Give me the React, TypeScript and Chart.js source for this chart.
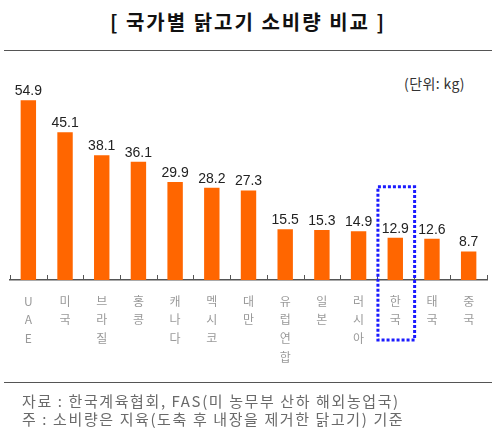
import { useEffect, useRef } from "react";
import { Chart, registerables } from "chart.js";
Chart.register(...registerables);

const countries = ["UAE", "미국", "브라질", "홍콩", "캐나다", "멕시코", "대만", "유럽연합", "일본", "러시아", "한국", "태국", "중국"];
const consumption = [54.9, 45.1, 38.1, 36.1, 29.9, 28.2, 27.3, 15.5, 15.3, 14.9, 12.9, 12.6, 8.7];
const highlighted = "한국";
const titleText = "[ 국가별 닭고기 소비량 비교 ]";
const unitText = "(단위: kg)";
const notes = ["자료 : 한국계육협회, FAS(미 농무부 산하 해외농업국)", "주 : 소비량은 지육(도축 후 내장을 제거한 닭고기) 기준"];

const KR = "'Noto Sans CJK KR', 'Noto Sans', sans-serif";

const App = () => {
  const canvasRef = useRef<HTMLCanvasElement>(null);
  const chartInstance = useRef<Chart | null>(null);

  useEffect(() => {
    const extras = {
      id: "extras",
      afterDatasetsDraw: (chart: any) => {
        const ctx = chart.ctx;
        const area = chart.chartArea;
        const x = chart.scales.x;
        const bars = chart.getDatasetMeta(0).data;
        const step = (x.right - x.left) / countries.length;

        ctx.save();
        // value labels
        ctx.fillStyle = "#222";
        ctx.font = "14px 'Liberation Sans', Arial, sans-serif";
        ctx.textAlign = "center";
        ctx.textBaseline = "bottom";
        bars.forEach((bar: any, i: number) => {
          ctx.fillText(consumption[i].toFixed(1), bar.x, bar.y - 2);
        });

        // small ticks pointing up from the axis
        ctx.strokeStyle = "#555";
        ctx.lineWidth = 1;
        for (let i = 0; i <= countries.length; i++) {
          const px = Math.round(x.left + i * step) + 0.5;
          ctx.beginPath();
          ctx.moveTo(px, area.bottom - 5);
          ctx.lineTo(px, area.bottom);
          ctx.stroke();
        }

        // dotted box round the highlighted country
        const idx = countries.indexOf(highlighted);
        const bar: any = bars[idx];
        ctx.strokeStyle = "#1a1aff";
        ctx.lineWidth = 3;
        ctx.setLineDash([3, 2]);
        const top = bar.y - 51;
        ctx.strokeRect(bar.x - step / 2 + 1, top, step, area.bottom + 60 - top);
        ctx.restore();
      },
    };

    chartInstance.current = new Chart(canvasRef.current!, {
      type: "bar",
      data: {
        labels: countries.map((c) => c.split("")),
        datasets: [
          {
            data: consumption,
            backgroundColor: "#ff6600",
            barPercentage: 0.42,
            categoryPercentage: 1,
          },
        ],
      },
      options: {
        responsive: false,
        animation: false,
        layout: { padding: { left: 10, right: 13, top: 83.5, bottom: 63.6 } },
        plugins: { legend: { display: false }, tooltip: { enabled: false } },
        scales: {
          x: {
            grid: { display: false, drawTicks: false },
            border: { color: "#555", width: 1.5 },
            ticks: {
              color: "#999",
              padding: 12,
              maxRotation: 0,
              autoSkip: false,
              font: { family: KR, size: 12, lineHeight: 1.55 },
            },
          },
          y: { display: false, min: 0, max: 60 },
        },
      },
      plugins: [extras],
    });

    return () => {
      chartInstance.current?.destroy();
      chartInstance.current = null;
    };
  }, []);

  return (
    <div style={{ position: "absolute", left: 0, top: 0, width: 500, height: 442, background: "#fff", fontFamily: KR }}>
      <div style={{ position: "absolute", top: 7, left: 0, width: 496, textAlign: "center", fontSize: 20, letterSpacing: 2, fontWeight: "bold", color: "#111", whiteSpace: "nowrap" }}>
        {titleText}
      </div>
      <div style={{ position: "absolute", top: 50, left: 4, width: 488, borderTop: "1.5px solid #555" }} />
      <div style={{ position: "absolute", top: 73, left: 404, fontSize: 14, letterSpacing: 0.4, color: "#333", whiteSpace: "nowrap" }}>{unitText}</div>
      <canvas ref={canvasRef} width={500} height={442} style={{ position: "absolute", left: 0, top: 0 }} />
      <div style={{ position: "absolute", top: 382, left: 4, width: 488, borderTop: "1.5px solid #555" }} />
      {notes.map((n, i) => (
        <div key={i} style={{ position: "absolute", top: 390 + i * 18, left: 22, fontSize: 15, letterSpacing: 1.6, color: "#6a6a6a", whiteSpace: "nowrap" }}>
          {n}
        </div>
      ))}
    </div>
  );
};

export default App;
